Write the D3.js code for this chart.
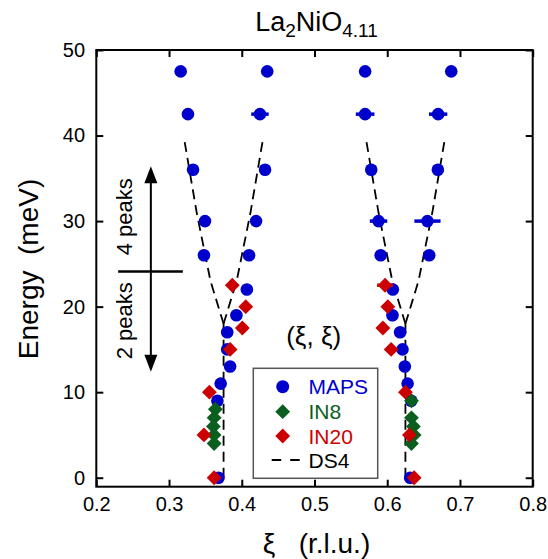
<!DOCTYPE html>
<html><head><meta charset="utf-8">
<script src="https://cdn.jsdelivr.net/npm/d3@7"></script>
<style>
body{margin:0;background:#fff;}
svg{display:block;font-family:"Liberation Sans",Arial,Helvetica,sans-serif;}
</style></head>
<body>
<svg id="chart" width="548" height="559"></svg>
<script>
// ---------- data ----------
const xTicks = [0.2, 0.3, 0.4, 0.5, 0.6, 0.7, 0.8];
const yTicks = [0, 10, 20, 30, 40, 50];

// MAPS (blue circles): energy, xi, xi error
const mapsE   = [47.5, 47.5, 42.5, 42.5, 36, 36, 30, 30, 26, 26, 22, 19, 17, 15, 13, 11, 9, 0,
                 47.5, 47.5, 42.5, 42.5, 36, 36, 30, 30, 26, 26, 22, 19, 17, 15, 13, 11, 9, 0];
const mapsXi  = [0.316, 0.435, 0.326, 0.425, 0.333, 0.432, 0.3495, 0.4197, 0.348, 0.410, 0.407, 0.3926, 0.380, 0.380, 0.384, 0.371, 0.3665, 0.368,
                 0.5696, 0.688, 0.5696, 0.670, 0.578, 0.6696, 0.588, 0.6553, 0.591, 0.6577, 0.6077, 0.6072, 0.6177, 0.621, 0.6242, 0.628, 0.633, 0.6315];
const mapsErr = [0, 0, 0, 0.012, 0, 0, 0, 0, 0, 0, 0, 0, 0, 0, 0, 0, 0, 0,
                 0, 0, 0.0128, 0.0126, 0, 0, 0.012, 0.018, 0, 0, 0, 0, 0, 0, 0, 0, 0, 0];

// IN8 (green diamonds)
const in8E  = [8, 7, 6, 5, 4, 9, 7, 6, 5, 4];
const in8Xi = [0.3637, 0.362, 0.361, 0.362, 0.362, 0.6333, 0.6333, 0.636, 0.637, 0.6333];

// IN20 (red diamonds)
const in20E   = [22.5, 20, 17.5, 15, 10, 5, 0, 22.5, 20, 17.5, 15, 10, 5, 0];
const in20Xi  = [0.387, 0.4055, 0.4008, 0.384, 0.3555, 0.348, 0.362, 0.597, 0.6008, 0.594, 0.6054, 0.625, 0.6305, 0.637];
const in20Err = [0, 0, 0, 0, 0, 0, 0, 0.011, 0, 0, 0, 0, 0, 0];

// DS4 model: incommensurate centres, vertical below kink, branches above
const dsCentres = [0.375, 0.625];
const dsVertE = [0, 18];
const dsBranchE = [18, 23, 31, 39.5];
const dsBranchOff = [0, 0.018, 0.037, 0.054];

// annotation (peaks arrows), in data units
const arrowXi = 0.275;
const arrowTopE = 36.4, arrowBotE = 12.4, dividerE = 24.1;
const dividerXi = [0.230, 0.319];

const legendLabels = ["MAPS", "IN8", "IN20", "DS4"];
const colBlue = "#0000cc", colGreen = "#0a5e1e", colRed = "#cc0000";

// ---------- layout ----------
const W = 548, H = 559;
const m = {left: 96.3, top: 50, right: 548 - 532.7, bottom: 559 - 486.7};
const svg = d3.select("#chart");
const x = d3.scaleLinear().domain([0.2, 0.8]).range([m.left, W - m.right]);
const y = d3.scaleLinear().domain([-1.05, 50]).range([H - m.bottom, m.top]);

// axes
const fmtX = d3.format(".1f");
const gx = svg.append("g").attr("transform", `translate(0,${H - m.bottom})`)
  .call(d3.axisBottom(x).tickValues(xTicks).tickSizeInner(-7).tickSizeOuter(0).tickPadding(10.6).tickFormat(fmtX));
const gxt = svg.append("g").attr("transform", `translate(0,${m.top})`)
  .call(d3.axisTop(x).tickValues(xTicks).tickSizeInner(-7).tickSizeOuter(0).tickFormat(""));
const gy = svg.append("g").attr("transform", `translate(${m.left},0)`)
  .call(d3.axisLeft(y).tickValues(yTicks).tickSizeInner(-7).tickSizeOuter(0).tickPadding(11.3));
const gyr = svg.append("g").attr("transform", `translate(${W - m.right},0)`)
  .call(d3.axisRight(y).tickValues(yTicks).tickSizeInner(-7).tickSizeOuter(0).tickFormat(""));
[gx, gxt, gy, gyr].forEach(g => {
  g.select(".domain").remove();
  g.selectAll(".tick line").attr("stroke", "#000").attr("stroke-width", 2);
  g.selectAll(".tick text").attr("font-size", 20).attr("font-family", "Liberation Sans, Arial, sans-serif").attr("fill", "#000");
});

// DS4 lines
const line = d3.line().x(d => x(d[0])).y(d => y(d[1]));
const dsG = svg.append("g").attr("fill", "none").attr("stroke", "#000").attr("stroke-width", 1.8).attr("stroke-dasharray", "10,6");
dsCentres.forEach(c => {
  dsG.append("path").attr("d", line(dsVertE.map(e => [c, e])));
  dsG.append("path").attr("d", line(dsBranchE.map((e, i) => [c - dsBranchOff[i], e])));
  dsG.append("path").attr("d", line(dsBranchE.map((e, i) => [c + dsBranchOff[i], e])));
});

// markers
const maps = mapsE.map((e, i) => ({e, xi: mapsXi[i], err: mapsErr[i]}));
const in8 = in8E.map((e, i) => ({e, xi: in8Xi[i], err: 0}));
const in20 = in20E.map((e, i) => ({e, xi: in20Xi[i], err: in20Err[i]}));

function errBars(data, col) {
  svg.append("g").selectAll("line").data(data.filter(d => d.err > 0)).join("line")
    .attr("x1", d => x(d.xi - d.err)).attr("x2", d => x(d.xi + d.err))
    .attr("y1", d => y(d.e)).attr("y2", d => y(d.e))
    .attr("stroke", col).attr("stroke-width", 3.5);
}
errBars(maps, colBlue);
svg.append("g").selectAll("circle").data(maps).join("circle")
  .attr("cx", d => x(d.xi)).attr("cy", d => y(d.e)).attr("r", 6.3).attr("fill", colBlue);

const diamond = d3.symbol(d3.symbolSquare, 110);
svg.append("g").selectAll("path").data(in8).join("path")
  .attr("d", diamond).attr("fill", colGreen)
  .attr("transform", d => `translate(${x(d.xi)},${y(d.e)}) rotate(45)`);
errBars(in20, colRed);
svg.append("g").selectAll("path").data(in20).join("path")
  .attr("d", diamond).attr("fill", colRed)
  .attr("transform", d => `translate(${x(d.xi)},${y(d.e)}) rotate(45)`);

// frame
svg.append("rect").attr("x", m.left).attr("y", m.top)
  .attr("width", W - m.left - m.right).attr("height", H - m.top - m.bottom)
  .attr("fill", "none").attr("stroke", "#000").attr("stroke-width", 2);

// peaks annotation
const ax = x(arrowXi);
svg.append("line").attr("x1", ax).attr("x2", ax).attr("y1", y(arrowTopE) + 14).attr("y2", y(arrowBotE) - 14)
  .attr("stroke", "#000").attr("stroke-width", 2);
svg.append("line").attr("x1", x(dividerXi[0])).attr("x2", x(dividerXi[1])).attr("y1", y(dividerE)).attr("y2", y(dividerE))
  .attr("stroke", "#000").attr("stroke-width", 2.5);
const ht = y(arrowTopE), hb = y(arrowBotE);
svg.append("path").attr("d", `M${ax},${ht} L${ax - 6.5},${ht + 17} L${ax + 6.5},${ht + 17} Z`).attr("fill", "#000");
svg.append("path").attr("d", `M${ax},${hb} L${ax - 6.5},${hb - 17} L${ax + 6.5},${hb - 17} Z`).attr("fill", "#000");
svg.append("text").attr("transform", `translate(132,216.7) rotate(-90)`).attr("text-anchor", "middle")
  .attr("font-size", 22).text("4 peaks");
svg.append("text").attr("transform", `translate(132,320.8) rotate(-90)`).attr("text-anchor", "middle")
  .attr("font-size", 22).text("2 peaks");

// (ξ, ξ)
svg.append("text").attr("x", 313.7).attr("y", 344.5).attr("text-anchor", "middle").attr("font-size", 26).text("(ξ, ξ)");

// legend
const lg = svg.append("g");
lg.append("rect").attr("x", 253.3).attr("y", 368.3).attr("width", 124.4).attr("height", 110)
  .attr("fill", "#fff").attr("stroke", "#555").attr("stroke-width", 1.5);
const legY = [386.7, 411.7, 436, 460];
const legCol = [colBlue, colGreen, colRed, "#000"];
lg.append("circle").attr("cx", 282.7).attr("cy", legY[0]).attr("r", 6.5).attr("fill", colBlue);
lg.append("path").attr("d", diamond).attr("fill", colGreen).attr("transform", `translate(282.7,${legY[1]}) rotate(45)`);
lg.append("path").attr("d", diamond).attr("fill", colRed).attr("transform", `translate(282.7,${legY[2]}) rotate(45)`);
lg.append("line").attr("x1", 271.7).attr("x2", 301).attr("y1", legY[3]).attr("y2", legY[3])
  .attr("stroke", "#000").attr("stroke-width", 1.8).attr("stroke-dasharray", "9.5,9");
legendLabels.forEach((t, i) => {
  lg.append("text").attr("x", 308.5).attr("y", legY[i] + 7.5).attr("font-size", 21).attr("fill", legCol[i]).text(t);
});

// axis titles
svg.append("text").attr("transform", "translate(38,269) rotate(-90)").attr("text-anchor", "middle")
  .attr("font-size", 28).attr("xml:space", "preserve").text("Energy  (meV)");
svg.append("text").attr("x", 316.5).attr("y", 553).attr("text-anchor", "middle")
  .attr("font-size", 28).attr("xml:space", "preserve").text("ξ   (r.l.u.)");

// title
const tt = svg.append("text").attr("x", 316.5).attr("y", 31).attr("text-anchor", "middle").attr("font-size", 27);
tt.append("tspan").text("La");
tt.append("tspan").attr("font-size", 19).attr("dy", 6).text("2");
tt.append("tspan").attr("dy", -6).text("NiO");
tt.append("tspan").attr("font-size", 19).attr("dy", 6).text("4.11");
</script>
</body></html>
